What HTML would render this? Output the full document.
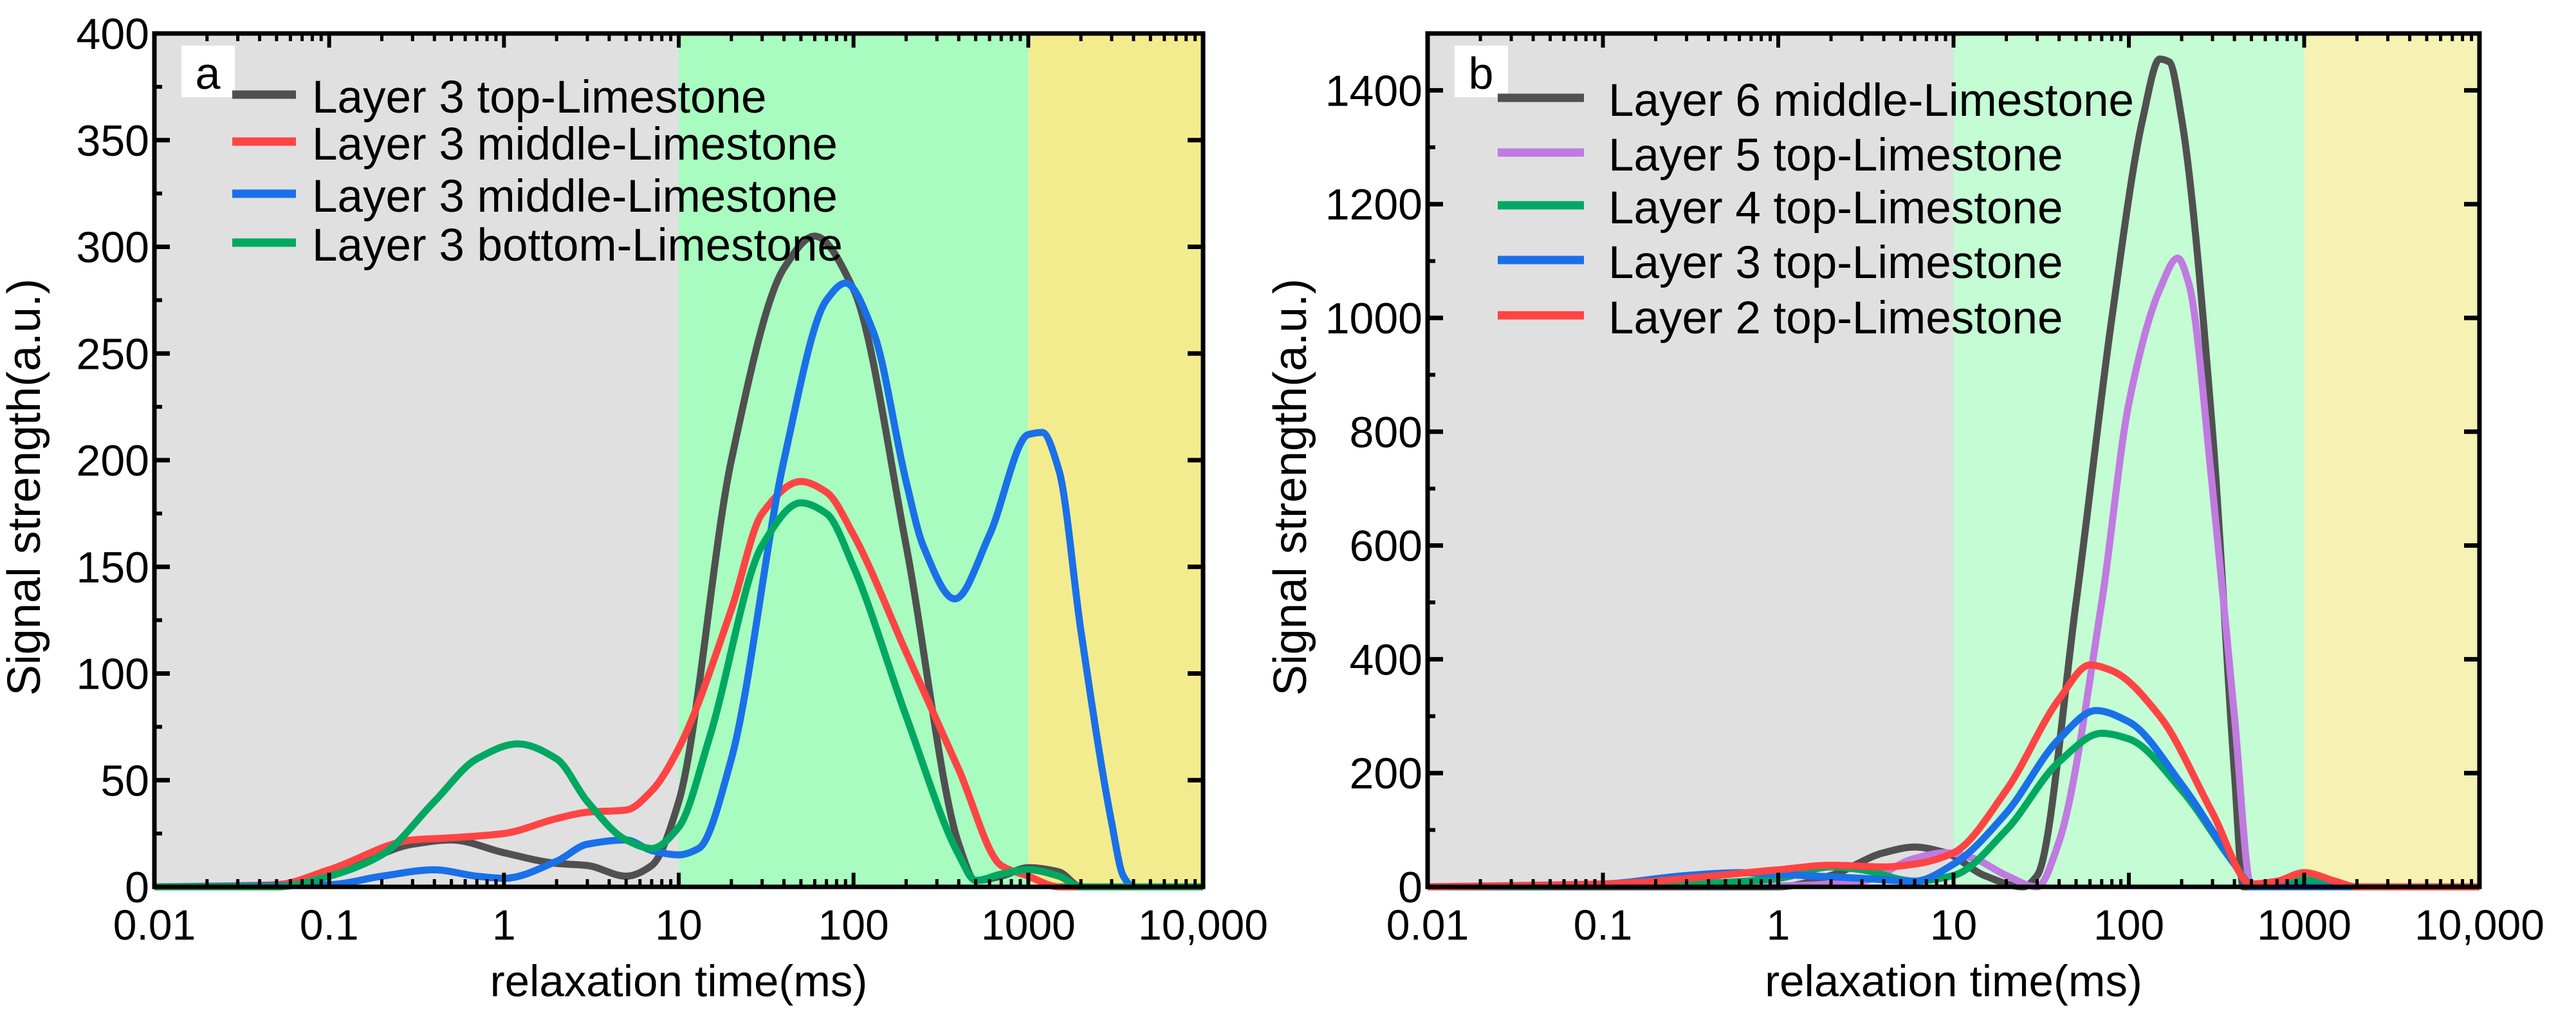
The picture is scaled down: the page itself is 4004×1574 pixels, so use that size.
<!DOCTYPE html>
<html><head><meta charset="utf-8"><style>
html,body{margin:0;padding:0;background:#fff;}
svg{display:block;font-family:"Liberation Sans",Arial,sans-serif;}
</style></head><body>
<svg id="chart" width="4004" height="1574" viewBox="0 0 4004 1574" xmlns="http://www.w3.org/2000/svg"></svg>
<script>
// ---- Panel a data ----
const aBlackX=[0.01,0.05,0.1,0.3,0.5,1,2,3,5,7,10,20,40,60,100,200,400,500,700,1000,1500,2000,10000];
const aBlackY=[0,0,5,20,22,16,11,10,5,10,40,200,290,305,280,160,20,3,5,9,7,0,0];
const aRedX=[0.01,0.05,0.1,0.3,0.5,1,2,3,5,7,10,20,30,50,70,100,200,400,700,1000,1500,10000];
const aRedY=[0,1,8,22,23,25,32,35,36,45,65,130,175,190,185,165,110,55,10,5,0,0];
const aBlueX=[0.01,0.1,0.2,0.4,0.7,1,2,3,5,7,10,13,20,40,70,90,130,200,250,380,600,1000,1200,1500,2000,3000,3500,4000,10000];
const aBlueY=[0,1,5,8,5,4,12,20,22,17,15,18,60,200,275,283,260,190,160,135,165,212,213,195,120,30,5,0,0];
const aGreenX=[0.01,0.05,0.1,0.2,0.4,0.7,1.2,2,3,5,7,10,15,30,50,70,100,200,400,500,700,1000,1500,2000,10000];
const aGreenY=[0,0,5,15,40,60,67,60,40,22,18,28,70,160,180,175,150,80,15,3,6,8,5,0,0];
const aLabels=["Layer 3 top-Limestone","Layer 3 middle-Limestone","Layer 3 middle-Limestone","Layer 3 bottom-Limestone"];
const aYTicks=[0,50,100,150,200,250,300,350,400];
// ---- Panel b data ----
const bBlackX=[0.01,1,2,4,6,9,15,25,30,50,80,120,150,170,200,300,400,450,10000];
const bBlackY=[0,0,20,60,70,60,20,0,20,500,1000,1350,1455,1450,1350,800,200,0,0];
const bPurpleX=[0.01,0.1,0.3,1,3,6,9,13,20,30,40,70,100,150,190,220,300,400,500,10000];
const bPurpleY=[0,5,10,2,10,50,60,50,20,0,80,500,850,1050,1105,1060,700,300,0,0];
const bGreenX=[0.01,0.3,1,2,3,6,10,20,40,70,100,200,400,500,1000,2000,10000];
const bGreenY=[0,5,15,35,30,10,20,100,220,270,260,170,40,5,12,0,0];
const bBlueX=[0.01,0.1,0.3,0.6,1,3,6,10,20,40,65,100,200,400,500,10000];
const bBlueY=[0,5,20,25,22,15,10,40,130,260,310,290,180,40,0,0];
const bRedX=[0.01,0.1,1,2,4,6,10,20,40,60,80,150,300,500,700,1000,1500,2000,10000];
const bRedY=[0,5,30,38,35,40,60,170,330,390,380,300,130,5,10,25,10,0,0];
const bLabels=["Layer 6 middle-Limestone","Layer 5 top-Limestone","Layer 4 top-Limestone","Layer 3 top-Limestone","Layer 2 top-Limestone"];
const bYTicks=[0,200,400,600,800,1000,1200,1400];
const xTickVals=[0.01,0.1,1,10,100,1000,10000];
const xTickText=["0.01","0.1","1","10","100","1000","10,000"];

const NS="http://www.w3.org/2000/svg";
const svg=document.getElementById('chart');
function mk(tag,attrs,parent){const e=document.createElementNS(NS,tag);for(const k in attrs)e.setAttribute(k,attrs[k]);(parent||svg).appendChild(e);return e;}

function monotonePath(pts){
  const n=pts.length;const dx=[],m=[],t=new Array(n);
  for(let i=0;i<n-1;i++){dx.push(pts[i+1][0]-pts[i][0]);m.push((pts[i+1][1]-pts[i][1])/dx[i]);}
  t[0]=m[0];t[n-1]=m[n-2];
  for(let i=1;i<n-1;i++){
    if(m[i-1]*m[i]<=0)t[i]=0;
    else{const w1=2*dx[i]+dx[i-1],w2=dx[i]+2*dx[i-1];t[i]=(w1+w2)/(w1/m[i-1]+w2/m[i]);}
  }
  let d='M'+pts[0][0]+','+pts[0][1];
  for(let i=0;i<n-1;i++){
    const h=dx[i]/3;
    d+=' C'+(pts[i][0]+h)+','+(pts[i][1]+t[i]*h)+' '+(pts[i+1][0]-h)+','+(pts[i+1][1]-t[i+1]*h)+' '+pts[i+1][0]+','+pts[i+1][1];
  }
  return d;
}

function panel(cfg){
  const g=mk('g',{});
  
  
  const L=cfg.left,R=cfg.right,T=52,B=1378;
  const sx=v=>L+(Math.log10(v)+2)/6*(R-L);
  const sy=v=>B-v/cfg.ymax*(B-T);
  const bands=[[0.01,10,'#e0e0e0','band-micropore'],[10,1000,cfg.green,'band-mesopore'],[1000,10000,cfg.yellow,'band-macropore']];
  bands.forEach(b=>{const r=mk('rect',{x:sx(b[0]),y:T,width:sx(b[1])-sx(b[0]),height:B-T,fill:b[2]},g);
    });
  cfg.series.forEach(s=>{
    const pts=s.x.map((v,i)=>[sx(v),sy(s.y[i])]);
    const p=mk('path',{d:monotonePath(pts),fill:'none',stroke:s.c,'stroke-width':11,'stroke-linejoin':'round'},g);
    
    
  });
  xTickVals.forEach((v,i)=>{
    mk('line',{x1:sx(v),x2:sx(v),y1:B,y2:B-22,stroke:'#000','stroke-width':6},g);
    mk('line',{x1:sx(v),x2:sx(v),y1:T,y2:T+22,stroke:'#000','stroke-width':6},g);
    if(i<xTickVals.length-1){for(let m=2;m<10;m++){const xx=sx(v*m);
      mk('line',{x1:xx,x2:xx,y1:B,y2:B-12,stroke:'#000','stroke-width':5},g);
      mk('line',{x1:xx,x2:xx,y1:T,y2:T+12,stroke:'#000','stroke-width':5},g);}}
    const t=mk('text',{x:sx(v),y:1460,'font-size':66,'text-anchor':'middle',fill:'#000'},g);
    t.textContent=xTickText[i];
    
    
  });
  const yt=cfg.yticks;
  yt.forEach((v,i)=>{
    mk('line',{x1:L,x2:L+24,y1:sy(v),y2:sy(v),stroke:'#000','stroke-width':7},g);
    mk('line',{x1:R,x2:R-24,y1:sy(v),y2:sy(v),stroke:'#000','stroke-width':7},g);
    const mv=v+(yt[1]-yt[0])/2; if(mv<cfg.ymax){
      mk('line',{x1:L,x2:L+12,y1:sy(mv),y2:sy(mv),stroke:'#000','stroke-width':6},g);}
    const t=mk('text',{x:L-8,y:sy(v)+24,'font-size':68,'text-anchor':'end',fill:'#000'},g);
    t.textContent=String(v);
    
    
  });
  const fr=mk('rect',{x:L,y:T,width:R-L,height:B-T,fill:'none',stroke:'#000','stroke-width':7},g);
  
  
  const xt=mk('text',{x:(L+R)/2,y:1548,'font-size':69,'text-anchor':'middle',fill:'#000'},g);
  xt.textContent='relaxation time(ms)';
  
  
  const ytt=mk('text',{x:0,y:0,'font-size':72,'text-anchor':'middle',fill:'#000',transform:'translate('+cfg.ytx+',757) rotate(-90)'},g);
  ytt.textContent='Signal strength(a.u.)';
  
  
  const lb=mk('rect',{x:L+42,y:71,width:83,height:80,fill:'#fff'},g);
  
  
  const lt=mk('text',{x:L+83,y:138,'font-size':70,'text-anchor':'middle',fill:'#000'},g);
  lt.textContent=cfg.letter;
  
  
  cfg.series.forEach((s,i)=>{
    const ly=cfg.legY[i];
    const ln=mk('line',{x1:cfg.legX1,x2:cfg.legX2,y1:ly,y2:ly,stroke:s.c,'stroke-width':13},g);
    
    
    const t=mk('text',{x:cfg.legTX,y:ly+28,'font-size':71,fill:'#000'},g);
    t.textContent=cfg.labels[i];
    
    
  });
}

panel({name:'panel-a',left:240,right:1870,ymax:400,yticks:aYTicks,green:'#a8fcc0',yellow:'#f2ec8e',ytx:62,letter:'a',
  series:[{x:aBlackX,y:aBlackY,c:'#505050',n:'line-layer3-top'},{x:aRedX,y:aRedY,c:'#ff4444',n:'line-layer3-middle-red'},
          {x:aBlueX,y:aBlueY,c:'#1a70e8',n:'line-layer3-middle-blue'},{x:aGreenX,y:aGreenY,c:'#00a862',n:'line-layer3-bottom'}],
  labels:aLabels,legY:[147,220,301,377],legX1:361,legX2:460,legTX:485});
panel({name:'panel-b',left:2219,right:3854,ymax:1500,yticks:bYTicks,green:'#c4fcd4',yellow:'#f5f2b4',ytx:2030,letter:'b',
  series:[{x:bBlackX,y:bBlackY,c:'#505050',n:'line-layer6-middle'},{x:bPurpleX,y:bPurpleY,c:'#c07ae0',n:'line-layer5-top'},
          {x:bGreenX,y:bGreenY,c:'#00a862',n:'line-layer4-top'},{x:bBlueX,y:bBlueY,c:'#1a70e8',n:'line-layer3-top'},
          {x:bRedX,y:bRedY,c:'#ff4444',n:'line-layer2-top'}],
  labels:bLabels,legY:[152,237,319,404,490],legX1:2328,legX2:2462,legTX:2500});
</script>
</body></html>
